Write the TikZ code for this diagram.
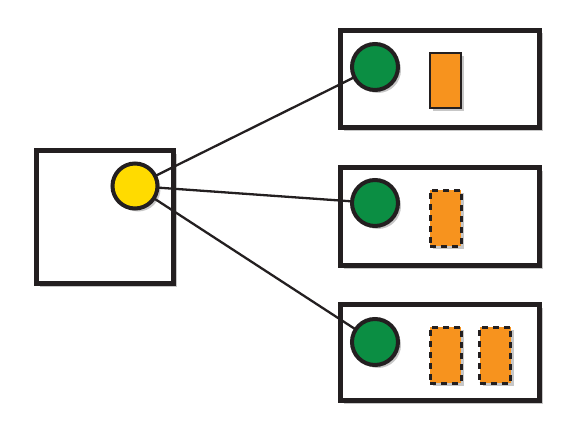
\documentclass[tikz,border=0pt]{standalone}
\usetikzlibrary{shadows}
\definecolor{ink}{HTML}{231F20}
\definecolor{leafgreen}{HTML}{0B8E43}
\definecolor{sunyellow}{HTML}{FFDB00}
\definecolor{tangerine}{HTML}{F7931E}
\begin{document}
\begin{tikzpicture}[x=1pt,y=-1pt,
  shade/.style={drop shadow={shadow xshift=3pt,shadow yshift=-3pt,opacity=0.22,fill=black}},
  box/.style={draw=ink,line width=5pt,fill=white,shade,inner sep=0pt,outer sep=0pt},
  ball/.style={circle,draw=ink,line width=4pt,inner sep=0pt,outer sep=0pt,minimum size=46pt,shade},
  block/.style={draw=ink,line width=2.2pt,fill=tangerine,inner sep=0pt,outer sep=0pt,minimum width=31pt,minimum height=55pt,shade},
  dblock/.style={block,line width=3pt,dash pattern=on 6pt off 5pt},
  link/.style={draw=ink,line width=2.3pt}]
\useasboundingbox (0,0) rectangle (588,425);
\node[box,minimum width=137pt,minimum height=133pt] (src) at (105,217) {};
\node[box,minimum width=199pt,minimum height=97pt] (t1) at (440,79) {};
\node[box,minimum width=199pt,minimum height=98pt] (t2) at (440,216.5) {};
\node[box,minimum width=199pt,minimum height=96pt] (t3) at (440,352.5) {};
\node[ball,fill=sunyellow,minimum size=45pt] (y) at (135,186) {};
\node[ball,fill=leafgreen] (g1) at (375,67) {};
\node[ball,fill=leafgreen] (g2) at (375,203) {};
\node[ball,fill=leafgreen] (g3) at (375,342) {};
\node[block] (o1) at (445.5,80.5) {};
\node[dblock,minimum height=56pt] (o2) at (445.5,218) {};
\node[dblock,minimum height=56pt] (o3) at (445.5,355) {};
\node[dblock,minimum height=56pt] (o4) at (495,355) {};
\draw[link] (y) -- (g1);
\draw[link] (y) -- (g2);
\draw[link] (y) -- (g3);
\end{tikzpicture}
\end{document}
